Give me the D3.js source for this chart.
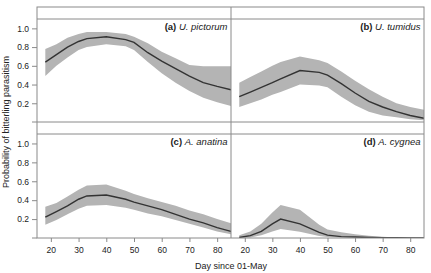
<!DOCTYPE html>
<html><head><meta charset="utf-8">
<script src="https://cdn.jsdelivr.net/npm/d3@7"></script>
<style>body{margin:0;background:#fff}svg{display:block}text{font-family:"Liberation Sans",Arial,sans-serif;fill:#222}</style>
</head><body><svg id="c" width="431" height="273"></svg>
<script>
const days = [18,22,26,30,33,40,47,50,55,60,65,70,75,80,85];
const xTicks = [20,30,40,50,60,70,80];
const yTicks = [0.2,0.4,0.6,0.8,1.0];
const panelNames = ["(a)","(b)","(c)","(d)"];
const species = ["U. pictorum","U. tumidus","A. anatina","A. cygnea"];
const fitA = [0.64,0.72,0.80,0.86,0.89,0.91,0.88,0.85,0.74,0.65,0.57,0.49,0.42,0.38,0.345];
const upA  = [0.78,0.83,0.90,0.94,0.96,0.96,0.94,0.91,0.84,0.75,0.68,0.61,0.595,0.595,0.595];
const loA  = [0.49,0.60,0.69,0.77,0.80,0.83,0.81,0.77,0.64,0.52,0.42,0.33,0.26,0.21,0.17];
const fitB = [0.27,0.32,0.37,0.42,0.46,0.55,0.53,0.50,0.41,0.31,0.22,0.16,0.11,0.07,0.04];
const upB  = [0.42,0.48,0.54,0.60,0.64,0.70,0.66,0.63,0.54,0.44,0.35,0.27,0.20,0.16,0.13];
const loB  = [0.16,0.20,0.24,0.29,0.32,0.40,0.39,0.37,0.27,0.18,0.11,0.07,0.05,0.03,0.02];
const fitC = [0.22,0.28,0.34,0.41,0.445,0.455,0.41,0.38,0.34,0.30,0.25,0.20,0.16,0.11,0.07];
const upC  = [0.33,0.37,0.44,0.51,0.555,0.565,0.50,0.465,0.42,0.38,0.34,0.29,0.25,0.20,0.155];
const loC  = [0.14,0.19,0.25,0.31,0.34,0.35,0.32,0.30,0.26,0.23,0.19,0.15,0.11,0.07,0.04];
const fitD = [0.005,0.025,0.07,0.15,0.20,0.15,0.06,0.03,0.015,0.01,0.005,0.003,0.002,0.001,0.001];
const upD  = [0.03,0.07,0.15,0.27,0.35,0.30,0.14,0.09,0.06,0.04,0.025,0.012,0.006,0.004,0.003];
const loD  = [0.0,0.005,0.03,0.07,0.095,0.065,0.02,0.01,0.004,0.002,0.001,0,0,0,0];

const fits=[fitA,fitB,fitC,fitD], ups=[upA,upB,upC,upD], los=[loA,loB,loC,loD];
const svg = d3.select("#c");
const L=37, M=231, R=424, T=7, SH=12;
const rowsY = [[T+SH,122],[134,238]];
const colsX = [[L,M],[M,R]];
const frame="#8a8a8a";

for (let p=0;p<4;p++){
  const col=p%2,row=Math.floor(p/2);
  const x=d3.scaleLinear().domain([15,85]).range(colsX[col]);
  const y=d3.scaleLinear().domain([0,1.1]).range([rowsY[row][1],rowsY[row][0]]);
  const pts=days.map((d,i)=>({d,f:fits[p][i],u:ups[p][i],l:los[p][i]}));
  const g=svg.append("g");
  const cid="clip"+p;
  svg.append("clipPath").attr("id",cid).append("rect")
    .attr("x",colsX[col][0]).attr("y",rowsY[row][0]).attr("width",colsX[col][1]-colsX[col][0]).attr("height",rowsY[row][1]-rowsY[row][0]);
  g.append("path").datum(pts).attr("clip-path",`url(#${cid})`)
    .attr("d",d3.area().x(d=>x(d.d)).y0(d=>y(d.l)).y1(d=>y(d.u)))
    .attr("fill","#b4b4b4");
  g.append("path").datum(pts).attr("clip-path",`url(#${cid})`)
    .attr("d",d3.line().x(d=>x(d.d)).y(d=>y(d.f)))
    .attr("fill","none").attr("stroke","#333").attr("stroke-width",1.4);
  const lab=g.append("text").attr("x",colsX[col][1]-3.5).attr("y",rowsY[row][0]+11)
    .attr("text-anchor","end").attr("font-size",9.5);
  lab.append("tspan").attr("font-weight","bold").text(panelNames[p]+" ");
  lab.append("tspan").attr("font-style","italic").text(species[p]);
  if(col===0){
    const ax=svg.append("g").attr("transform",`translate(${L},0)`)
      .call(d3.axisLeft(y).tickValues(yTicks).tickFormat(d3.format(".1f")).tickSize(5).tickPadding(3));
    ax.select(".domain").remove();
    ax.selectAll("line").attr("stroke",frame);
    ax.selectAll("text").attr("font-size",8.5).attr("fill","#222").attr("font-family","Liberation Sans, Arial, sans-serif");
    svg.append("line").attr("x1",L-5).attr("x2",L).attr("y1",y(0)).attr("y2",y(0)).attr("stroke",frame);
  }
  if(row===1){
    const ax=svg.append("g").attr("transform",`translate(0,${rowsY[1][1]})`)
      .call(d3.axisBottom(x).tickValues(xTicks).tickSize(4).tickPadding(5));
    ax.select(".domain").remove();
    ax.selectAll("line").attr("stroke",frame);
    ax.selectAll("text").attr("font-size",8.5).attr("fill","#222").attr("font-family","Liberation Sans, Arial, sans-serif");
  }
}
// frame
svg.append("rect").attr("x",L).attr("y",T).attr("width",R-L).attr("height",238-T)
  .attr("fill","none").attr("stroke",frame).attr("stroke-width",1);
[[T+SH],[122],[134]].forEach(([yy])=>svg.append("line").attr("x1",L).attr("x2",R).attr("y1",yy).attr("y2",yy).attr("stroke",frame));
svg.append("line").attr("x1",M).attr("x2",M).attr("y1",T).attr("y2",238).attr("stroke",frame);

svg.append("text").attr("x",231).attr("y",269).attr("text-anchor","middle").attr("font-size",9).text("Day since 01-May");
svg.append("text").attr("transform","translate(9,122) rotate(-90)").attr("text-anchor","middle").attr("font-size",9).text("Probability of bitterling parasitism");
</script></body></html>
